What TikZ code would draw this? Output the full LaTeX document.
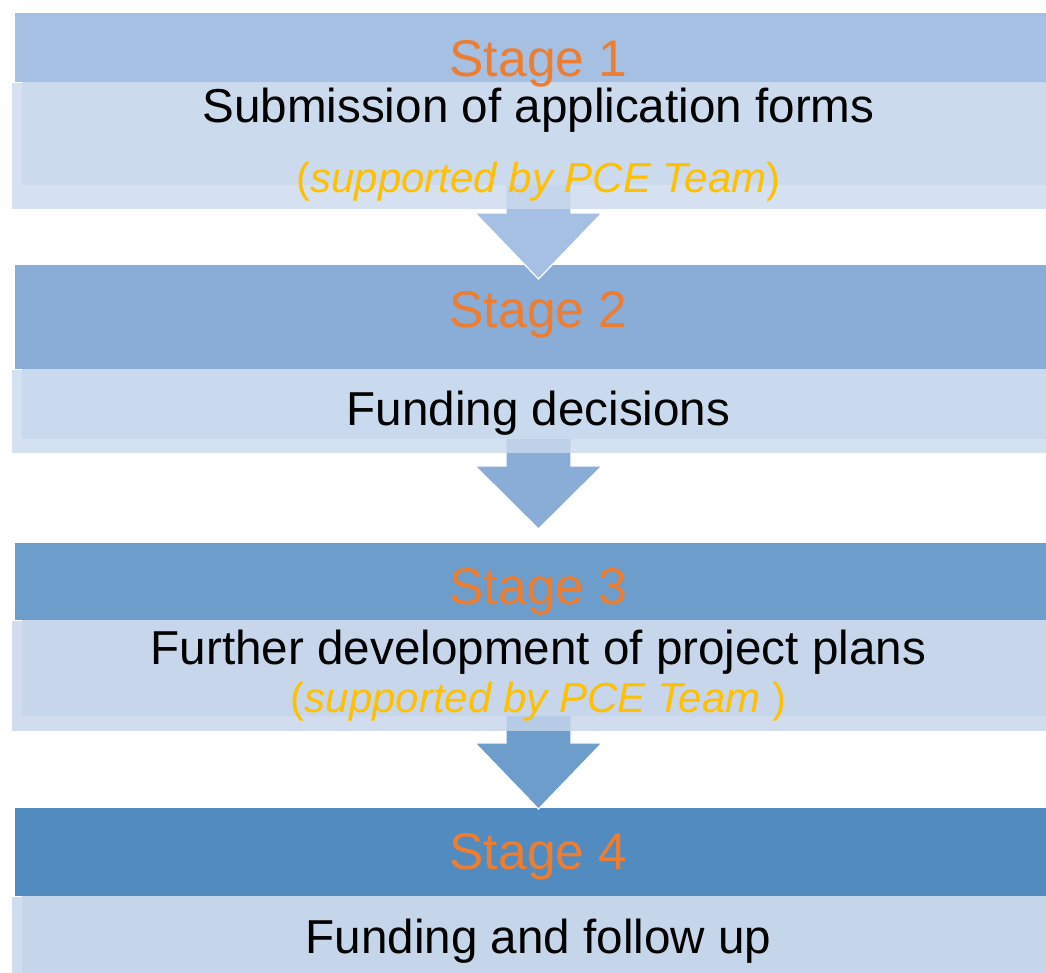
\documentclass[tikz,border=0pt]{standalone}
\usepackage{fontspec}
\setmainfont{Liberation Sans}
\usepackage{xcolor}
\usetikzlibrary{positioning, calc}
\definecolor{barA}{HTML}{A5C0E3}
\definecolor{barB}{HTML}{89ADD6}
\definecolor{barC}{HTML}{6C9DCB}
\definecolor{barD}{HTML}{518BC0}
\definecolor{boxA}{HTML}{CCDAEE}
\definecolor{boxB}{HTML}{CADAEE}
\definecolor{boxC}{HTML}{C7D6EB}
\definecolor{boxD}{HTML}{C5D5EA}
\definecolor{stageorange}{HTML}{ED7D31}
\definecolor{noteyellow}{HTML}{FFC000}
\tikzset{
	stagebar/.style={rectangle, inner sep=0pt, minimum width=515.5pt},
	stagebox/.style={rectangle, inner sep=0pt, minimum width=517pt, fill opacity=0.82},
	stagetitle/.style={anchor=base, text=stageorange, font=\fontsize{25.8}{30}\selectfont},
	stagetext/.style={anchor=base, text=black, font=\fontsize{23.8}{28}\selectfont},
	notetext/.style={anchor=base, text=noteyellow, font=\fontsize{21}{25}\selectfont},
	flowarrow/.style={draw=white, line width=0.6pt}
}
% block arrow: top point, tip point, shaft length, colour
\newcommand{\stagearrow}[4]{%
	\filldraw[flowarrow, fill=#4] ($(#1)+(-32.5,0)$) -- ($(#1)+(32.5,0)$) -- ($(#1)+(32.5,#3)$) -- ($(#1)+(63.5,#3)$) -- (#2) -- ($(#1)+(-63.5,#3)$) -- ($(#1)+(-32.5,#3)$) -- cycle;}

\begin{document}
\begin{tikzpicture}[x=0.5pt, y=-0.5pt]
	\useasboundingbox (0,0) rectangle (1046,973);
	
	% Header bars
	\node[stagebar, fill=barA, minimum height=34.5pt] (bar1) at (530.5,47.5) {};
	\node[stagebar, fill=barB, minimum height=52pt] (bar2) at (530.5,317) {};
	\node[stagebar, fill=barC, minimum height=38.5pt] (bar3) at (530.5,581.5) {};
	\node[stagebar, fill=barD, minimum height=44pt] (bar4) at (530.5,852) {};
	
	% Arrows between the stages
	\coordinate (top1) at (538.5,183);
	\coordinate (tip1) at (538.5,279);
	\coordinate (top2) at (538.5,437);
	\coordinate (tip2) at (538.5,529);
	\coordinate (top3) at (538.5,715);
	\coordinate (tip3) at (538.5,809);
	\stagearrow{top1}{tip1}{30}{barA}
	\stagearrow{top2}{tip2}{29}{barB}
	\stagearrow{top3}{tip3}{28}{barC}
	
	% Content boxes
	\node[stagebox, fill=boxA, minimum height=63pt, below=0pt of bar1, xshift=-0.75pt] (box1) {};
	\fill[boxA] ([xshift=5pt]box1.north west) rectangle ([yshift=12pt]box1.south east);
	\node[stagebox, fill=boxB, minimum height=41.5pt, below=0pt of bar2, xshift=-0.75pt] (box2) {};
	\fill[boxB] ([xshift=5pt]box2.north west) rectangle ([yshift=7pt]box2.south east);
	\node[stagebox, fill=boxC, minimum height=55pt, below=0pt of bar3, xshift=-0.75pt] (box3) {};
	\fill[boxC] ([xshift=5pt]box3.north west) rectangle ([yshift=7.5pt]box3.south east);
	\node[stagebox, fill=boxD, minimum height=40pt, below=0pt of bar4, xshift=-0.75pt] (box4) {};
	\fill[boxD] ([xshift=5pt]box4.north west) rectangle (box4.south east);
	
	% Texts
	\node[stagetitle] (title1) at (538.5,77) {Stage 1};
	\node[stagetext] (text1) at (538.5,123) {Submission of application forms};
	\node[notetext] (note1) at (538.5,193) {(\textit{supported by PCE Team})};
	
	\node[stagetitle] (title2) at (538.5,328) {Stage 2};
	\node[stagetext] (text2) at (538.5,426) {Funding decisions};
	
	\node[stagetitle] (title3) at (538.5,605) {Stage 3};
	\node[stagetext] (text3) at (538.5,665) {Further development of project plans};
	\node[notetext] (note3) at (538.5,712) {(\textit{supported by PCE Team} )};
	
	\node[stagetitle] (title4) at (538.5,870) {Stage 4};
	\node[stagetext] (text4) at (538.5,953) {Funding and follow up};
\end{tikzpicture}
\end{document}
